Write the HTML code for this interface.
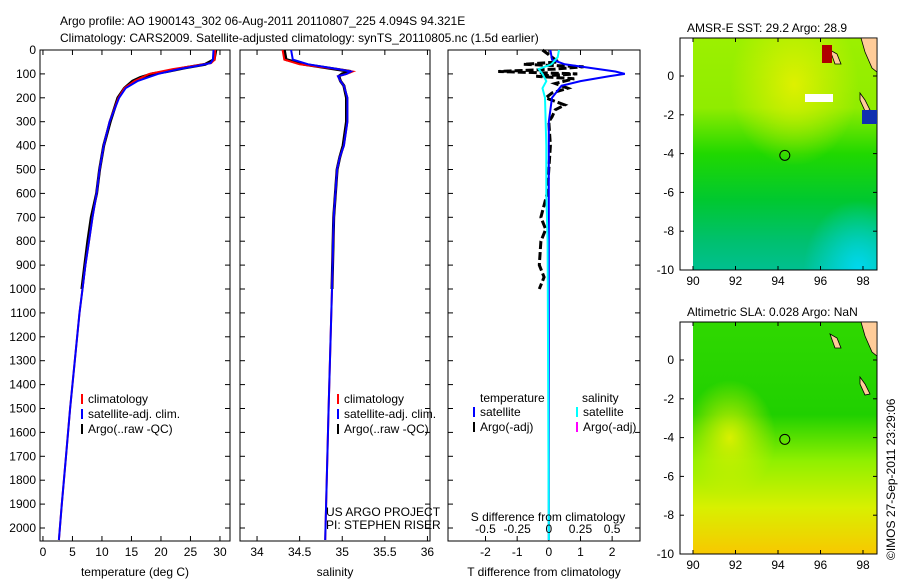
<!DOCTYPE html>
<html><head><meta charset="utf-8"><style>
body{margin:0;background:#fff;width:900px;height:580px;overflow:hidden}
svg text{font-family:"Liberation Sans",sans-serif;font-size:12px;fill:#000}
</style></head><body>
<svg id="fig" width="900" height="580">
<defs>
<linearGradient id="g1" x1="0" y1="0" x2="0" y2="1">
<stop offset="0" stop-color="#9cf000"/><stop offset="0.3" stop-color="#90ec00"/><stop offset="0.5" stop-color="#20d800"/><stop offset="0.7" stop-color="#00c830"/><stop offset="0.88" stop-color="#00c070"/><stop offset="1" stop-color="#00c090"/></linearGradient>
<radialGradient id="g1y" cx="0.55" cy="0.2" r="0.35"><stop offset="0" stop-color="#e6f000" stop-opacity="0.9"/><stop offset="1" stop-color="#e6f000" stop-opacity="0"/></radialGradient>
<radialGradient id="g1c" cx="0.9" cy="1" r="0.3"><stop offset="0" stop-color="#00d8f0"/><stop offset="1" stop-color="#00d8f0" stop-opacity="0"/></radialGradient>
<linearGradient id="g2" x1="0" y1="0" x2="0" y2="1">
<stop offset="0" stop-color="#30d800"/><stop offset="0.4" stop-color="#20d000"/><stop offset="0.6" stop-color="#90f000"/><stop offset="0.8" stop-color="#d8f000"/><stop offset="1" stop-color="#f8c800"/></linearGradient>
<radialGradient id="g2y" cx="0.2" cy="0.5" r="0.25"><stop offset="0" stop-color="#d8f000"/><stop offset="1" stop-color="#d8f000" stop-opacity="0"/></radialGradient>
</defs>
<text x="60" y="25">Argo profile: AO 1900143_302 06-Aug-2011 20110807_225 4.094S 94.321E</text>
<text x="60" y="42">Climatology: CARS2009. Satellite-adjusted climatology: synTS_20110805.nc (1.5d earlier)</text>
<g id="plots"></g>
<text transform="translate(895,560) rotate(-90)">©IMOS 27-Sep-2011 23:29:06</text>
</svg>
<script>
// depth axis data
const depthTicks=[0,100,200,300,400,500,600,700,800,900,1000,1100,1200,1300,1400,1500,1600,1700,1800,1900,2000];
// temperature profile
const tDepth=[0,40,55,65,80,100,130,160,200,300,400,500,600,700,800,900,1000,1100,1300,1500,1700,1900,2050];
const tClim=[29.2,29.1,28.5,26,22,18,15.5,13.8,12.8,11.3,10.3,9.6,9.1,8.4,7.8,7.2,6.7,6.2,5.4,4.6,3.9,3.2,2.7];
const tSat=[28.9,28.8,28.4,26.5,23,19.5,16,14,12.9,11.3,10.3,9.6,9.1,8.4,7.8,7.2,6.7,6.2,5.4,4.6,3.9,3.2,2.7];
const aDepth=[0,40,60,75,90,100,115,130,160,200,300,400,500,600,700,800,900,1000];
const tArgo=[29.3,29,27.5,24,21,18.5,16.5,15.2,13.8,12.7,11.4,10.3,9.6,9.1,8.2,7.6,7.1,6.6];
// salinity profile
const sDepth=[0,40,60,80,90,100,110,130,150,200,300,400,450,500,700,1000,1500,2050];
const sClim=[34.3,34.32,34.5,34.95,35.12,35.05,34.95,34.98,35.02,35.06,35.06,35.02,34.97,34.94,34.9,34.88,34.84,34.8];
const sSat=[34.4,34.42,34.6,34.95,35.1,35.05,34.95,34.98,35.02,35.06,35.06,35.02,34.97,34.94,34.9,34.88,34.84,34.8];
const sArgo=[34.32,34.34,34.55,34.92,35.1,35.0,34.96,34.98,35.02,35.05,35.05,35.01,34.97,34.94,34.9,34.88];
// differences
const dTSatDepth=[0,40,60,75,90,100,110,130,150,200,300,2050];
const dTSat=[0.05,0.1,0.5,1.3,2.1,2.4,1.9,1.0,0.4,0.1,0,0];
const dTArgoDepth=[0,30,50,60,70,80,90,100,110,120,140,160,180,200,230,250,280,300,400,500,600,700,750,800,900,950,1000];
const dTArgo=[-0.2,0.1,0.3,-0.8,1.1,0.2,-1.6,0.9,-0.4,0.8,0.2,0.6,0.1,-0.1,0.5,0.2,0.1,0.0,0.05,0,-0.05,-0.25,-0.1,-0.25,-0.3,-0.15,-0.3];
const dSSatDepth=[0,30,60,80,100,130,160,200,400,600,800,2050];
const dSSat=[0.08,0.07,0.02,-0.08,-0.05,-0.02,-0.05,-0.03,-0.02,-0.02,-0.01,0];
// map coast (lon,lat)
const mapLonTicks=[90,92,94,96,98];
const mapLatTicks=[0,-2,-4,-6,-8,-10];

const NS='http://www.w3.org/2000/svg';
const root=document.getElementById('plots');
function el(tag,attrs,parent){const e=document.createElementNS(NS,tag);for(const k in attrs)e.setAttribute(k,attrs[k]);(parent||root).appendChild(e);return e;}
function txt(x,y,s,anchor,parent){const t=el('text',{x:x,y:y,'text-anchor':anchor||'start'},parent);t.textContent=s;return t;}
const Y0=50,Y1=541; const dy=d=>Y0+d*(528-Y0)/2000;

function panel(x0,x1,name,xmin,xmax,xticks,xlabels,xtitle,showY){
  const g=el('g',{});
  
  
  const sx=v=>x0+(v-xmin)*(x1-x0)/(xmax-xmin);
  el('rect',{x:x0,y:Y0,width:x1-x0,height:Y1-Y0,fill:'#fff',stroke:'#000'},g);
  depthTicks.forEach(d=>{const y=dy(d);
    el('line',{x1:x0,x2:x0+5,y1:y,y2:y,stroke:'#000'},g);
    el('line',{x1:x1-5,x2:x1,y1:y,y2:y,stroke:'#000'},g);
    if(showY){const t=txt(x0-4,y+4,String(d),'end',g);}
  });
  xticks.forEach((v,i)=>{const x=sx(v);
    el('line',{x1:x,x2:x,y1:Y1,y2:Y1-5,stroke:'#000'},g);
    el('line',{x1:x,x2:x,y1:Y0,y2:Y0+5,stroke:'#000'},g);
    if(xlabels[i]!==null){const t=txt(x,Y1+15,xlabels[i],'middle',g);}
  });
  const t=txt((x0+x1)/2,Y1+33-4,xtitle,'middle',g);
  t.setAttribute('y',576);
  
  
  return {g,sx};
}
function line(p,xs,ds,color,w,name,dash){
  const pts=xs.map((v,i)=>p.sx(v).toFixed(1)+','+dy(ds[i]).toFixed(1)).join(' ');
  const l=el('polyline',{points:pts,fill:'none',stroke:color,'stroke-width':w},p.g);
  if(dash)l.setAttribute('stroke-dasharray',dash);
  
  
}
function legend(p,x,y,items){
  items.forEach((it,i)=>{const yy=y+i*15;
    el('line',{x1:x,x2:x,y1:yy-9,y2:yy+1,stroke:it[1],'stroke-width':2},p.g);
    const t=txt(x+6,yy,it[0],'start',p.g);
    
    
  });
}
// panel 1
const p1=panel(40,230,'temperature-panel',-0.5,31.7,[0,5,10,15,20,25,30],['0','5','10','15','20','25','30'],'temperature (deg C)',true);
line(p1,tArgo,aDepth,'#000',3,'argo-temperature-line');
line(p1,tClim,tDepth,'#f00',2,'climatology-temperature-line');
line(p1,tSat,tDepth,'#00f',2,'satellite-temperature-line');
legend(p1,82,403,[['climatology','#f00'],['satellite-adj. clim.','#00f'],['Argo(..raw -QC)','#000']]);
// panel 2
const p2=panel(240,430,'salinity-panel',33.8,36.03,[34,34.5,35,35.5,36],['34','34.5','35','35.5','36'],'salinity',false);
line(p2,sArgo,sDepth.slice(0,sArgo.length),'#000',3,'argo-salinity-line');
line(p2,sClim,sDepth,'#f00',2,'climatology-salinity-line');
line(p2,sSat,sDepth,'#00f',2,'satellite-salinity-line');
legend(p2,338,403,[['climatology','#f00'],['satellite-adj. clim.','#00f'],['Argo(..raw -QC)','#000']]);
txt(326,516,'US ARGO PROJECT','start',p2.g);
txt(326,529,'PI: STEPHEN RISER','start',p2.g);
// panel 3
const p3=panel(448,640,'difference-panel',-2.1/0.97*1.0-1.02,2.88,[-2,-1,0,1,2],['-2','-1','0','1','2'],'T difference from climatology',false);
line(p3,dTArgo,dTArgoDepth,'#000',3,'argo-temperature-difference-line','8,3');
line(p3,dTSat,dTSatDepth,'#00f',2,'satellite-temperature-difference-line');
line(p3,dSSat.map(v=>v*4),dSSatDepth,'#0ff',2,'satellite-salinity-difference-line');
[['-0.5',-2],['-0.25',-1],['0',0],['0.25',1],['0.5',2]].forEach(a=>{const t=txt(p3.sx(a[1]),Y1-8,a[0],'middle',p3.g);});
txt(548,Y1-20,'S difference from climatology','middle',p3.g);
txt(480,402,'temperature','start',p3.g);txt(582,402,'salinity','start',p3.g);
legend(p3,474,416,[['satellite','#00f'],['Argo(-adj)','#000']]);
legend(p3,577,416,[['satellite','#0ff'],['Argo(-adj)','#f0f']]);

// maps
function map(y0,name,title,grads){
  const g=el('g',{});
  
  
  const x0=680,x1=877,h=232;
  const lx=v=>693+(v-90)*21.25, ly=v=>y0+38+(-v)*19.4;
  grads.forEach(gr=>el('rect',{x:693,y:y0,width:x1-693,height:h,fill:'url(#'+gr+')'},g));
  el('rect',{x:x0,y:y0,width:x1-x0,height:h,fill:'none',stroke:'#000'},g);
  mapLonTicks.forEach(v=>{const x=lx(v);el('line',{x1:x,x2:x,y1:y0+h,y2:y0+h-4,stroke:'#000'},g);el('line',{x1:x,x2:x,y1:y0,y2:y0+4,stroke:'#000'},g);txt(x,y0+h+15,String(v),'middle',g);});
  mapLatTicks.forEach(v=>{const y=ly(v);el('line',{x1:x0,x2:x0+4,y1:y,y2:y,stroke:'#000'},g);el('line',{x1:x1-4,x2:x1,y1:y,y2:y,stroke:'#000'},g);txt(x0-6,y+4,String(v),'end',g);});
  el('path',{d:`M${x1},${y0} L${x1-16},${y0} L${x1-12},${y0+14} L${x1-5},${y0+30} L${x1},${y0+34}Z`,fill:'#fc9',stroke:'#000','stroke-width':0.8},g);
  el('path',{d:`M${x1-47},${y0+12} L${x1-40},${y0+16} L${x1-36},${y0+26} L${x1-42},${y0+26}Z`,fill:'#fc9',stroke:'#000','stroke-width':0.8},g);
  el('path',{d:`M${x1-17},${y0+55} L${x1-12},${y0+62} L${x1-7},${y0+72} L${x1-12},${y0+73} L${x1-17},${y0+62}Z`,fill:'#fc9',stroke:'#000','stroke-width':0.8},g);
  const c=el('circle',{cx:lx(94.32),cy:ly(-4.09),r:5,fill:'none',stroke:'#000'},g);
  
  const t=txt(687,y0-6,title,'start',g);
  
  
  return g;
}
const m1=map(38,'sst-map','AMSR-E SST: 29.2 Argo: 28.9',['g1','g1y','g1c']);
el('rect',{x:862,y:110,width:15,height:14,fill:'#1030b0'},m1);
el('rect',{x:822,y:45,width:10,height:18,fill:'#b00000'},m1);
el('rect',{x:805,y:94,width:28,height:8,fill:'#fff'},m1);
map(322,'sla-map','Altimetric SLA: 0.028 Argo: NaN',['g2','g2y']);
</script>
</body></html>
